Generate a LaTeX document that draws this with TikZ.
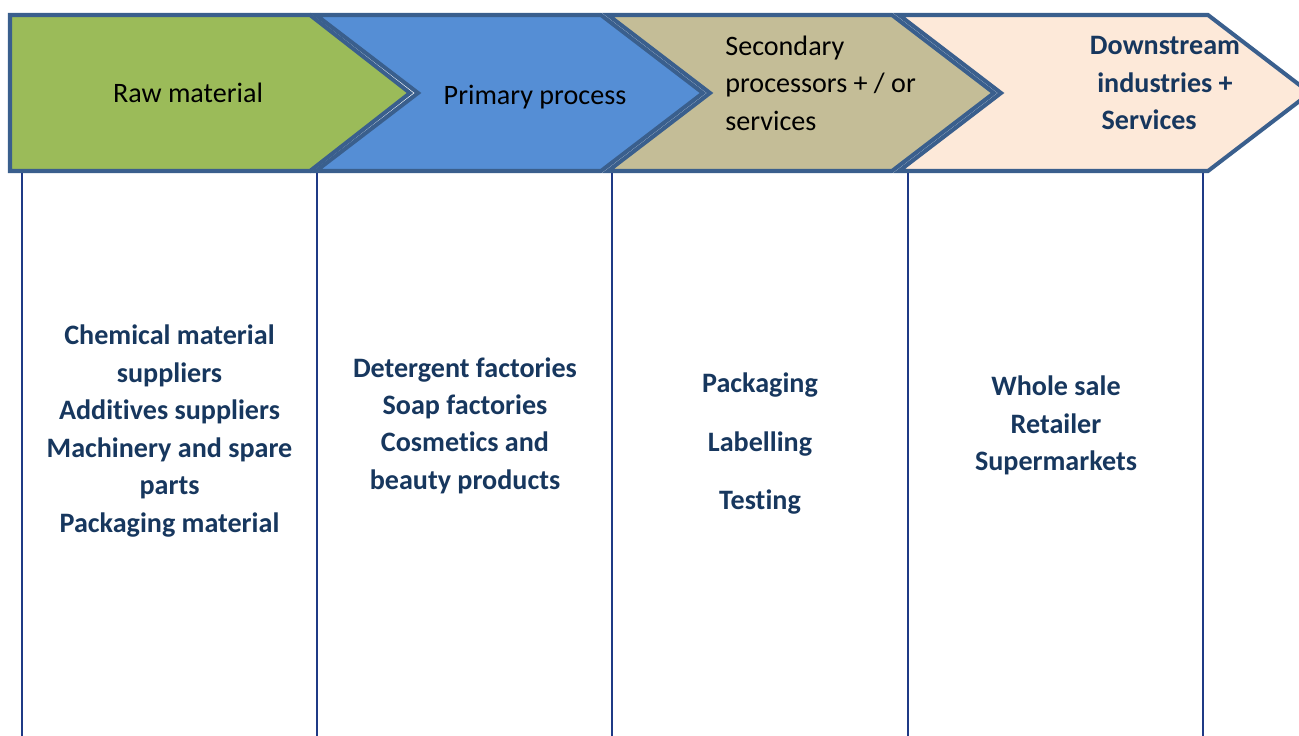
\documentclass[tikz,border=0pt]{standalone}
\usepackage{fontspec}
\setmainfont{Carlito}[Ligatures=CommonOff]
\definecolor{rawgreen}{HTML}{9BBB59}
\definecolor{primblue}{HTML}{558ED5}
\definecolor{secondtan}{HTML}{C4BD97}
\definecolor{downpeach}{HTML}{FDE9D9}
\definecolor{stageedge}{HTML}{3A5F8D}
\definecolor{itemnavy}{HTML}{17375E}
\definecolor{linenavy}{HTML}{1F3A86}
\tikzset{
  stage/.style={draw=stageedge, line width=2.3pt, line join=miter},
  head/.style={inner sep=0pt, font=\fontsize{16}{21.3}\selectfont, text=black},
  item/.style={inner sep=0pt, align=center, font=\fontsize{16}{21.3}\selectfont\bfseries, text=itemnavy},
  divider/.style={draw=linenavy, line width=0.9pt}
}
\begin{document}
\begin{tikzpicture}[x=0.02cm, y=-0.02cm]
        \clip (0,0) rectangle (1299,736);
        % draw the four stage arrows
        \draw[stage, fill=rawgreen] (10,15) -- (310,15) -- (410,93) -- (310,171) -- (10,171) -- cycle;
        \draw[stage, fill=primblue] (316,15) -- (601,15) -- (703,93) -- (601,171) -- (316,171) -- (418,93) -- cycle;
        \draw[stage, fill=secondtan] (608,15) -- (892,15) -- (994,93) -- (892,171) -- (608,171) -- (710,93) -- cycle;
        \draw[stage, fill=downpeach] (899,15) -- (1208,15) -- (1310,93) -- (1208,171) -- (899,171) -- (1001,93) -- cycle;
        % stage titles
        \node[head] (raw) at (188,93) {Raw material};
        \node[head] (primary) at (535,97) {Primary process};
        \node[head, align=left, anchor=west] (secondary) at (725,83) {Secondary\\processors + / or\\services};
        \node[item] (downstream) at (1165,83) {Downstream\\industries +\\Services\hspace*{18pt}};
        % column dividers
        \draw[divider] (22,173) -- (22,736);
        \draw[divider] (317,173) -- (317,736);
        \draw[divider] (612,173) -- (612,736);
        \draw[divider] (908,173) -- (908,736);
        \draw[divider] (1203,173) -- (1203,736);
        % actors in each stage
        \node[item] (suppliers) at (169.5,431) {Chemical material\\suppliers\\Additives suppliers\\Machinery and spare\\parts\\Packaging material};
        \node[item] (factories) at (465,425.5) {Detergent factories\\Soap factories\\Cosmetics and\\beauty products};
        \node[item] (services) at (760,444) {Packaging\\[12pt]Labelling\\[12pt]Testing};
        \node[item] (trade) at (1056,425.5) {Whole sale\\Retailer\\Supermarkets};
    \end{tikzpicture}
\end{document}
